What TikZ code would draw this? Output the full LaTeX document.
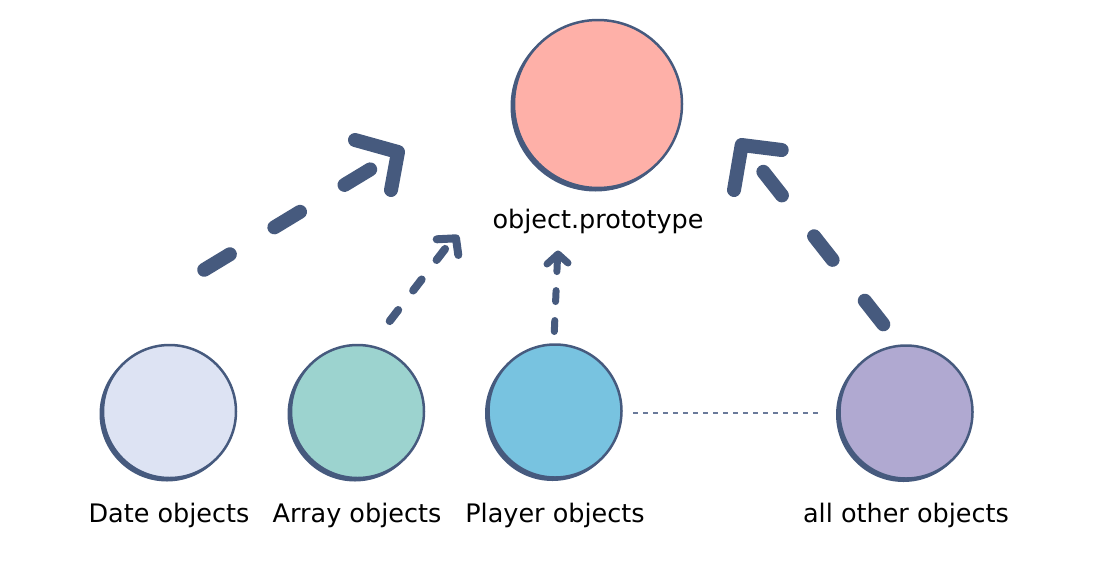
\documentclass[tikz,border=0pt]{standalone}
\usepackage{fontspec}
\setmainfont{DejaVu Sans}
\usetikzlibrary{calc}
\definecolor{bordercol}{HTML}{465A7E}
\definecolor{protocol}{HTML}{FEB0A8}
\definecolor{datecol}{HTML}{DDE3F3}
\definecolor{arraycol}{HTML}{9CD3CF}
\definecolor{playercol}{HTML}{78C3E0}
\definecolor{othercol}{HTML}{B0A9D1}
\definecolor{dotcol}{HTML}{6A7A9A}
\tikzset{
  objcircle/.style={circle, draw=bordercol, line width=2.5pt, inner sep=0pt, minimum size=#1},
  shadowcircle/.style={circle, fill=bordercol, inner sep=0pt, minimum size=#1},
  lbl/.style={anchor=base, font=\fontsize{25.5}{30}\selectfont, text=black, inner sep=0pt},
  bigarrow/.style={draw=bordercol, line width=14pt, line cap=round, line join=round},
  midarrow/.style={draw=bordercol, line width=8pt, line cap=round, line join=round},
  smallarrow/.style={draw=bordercol, line width=7pt, line cap=round, line join=round},
}
\begin{document}
\begin{tikzpicture}[x=1pt,y=-1pt]
\useasboundingbox (0,0) rectangle (1108,568);
% shadows
\node[shadowcircle=170pt] at (595.5,106.5) {};
\node[shadowcircle=135pt] at (167,414) {};
\node[shadowcircle=135pt] at (355,414) {};
\node[shadowcircle=135pt] at (552.5,413.5) {};
\node[shadowcircle=135pt] at (903.5,414.5) {};
% circles
\node[objcircle=168pt, fill=protocol] (proto) at (598,104) {};
\node[objcircle=133pt, fill=datecol] (date) at (169.5,411.5) {};
\node[objcircle=133pt, fill=arraycol] (array) at (357.5,411.5) {};
\node[objcircle=133pt, fill=playercol] (player) at (555,411) {};
\node[objcircle=133pt, fill=othercol] (other) at (906,412) {};
% labels
\node[lbl] (protolbl) at (598,228) {object.prototype};
\node[lbl] (datelbl) at (169,522) {Date objects};
\node[lbl] (arraylbl) at (357,522) {Array objects};
\node[lbl] (playerlbl) at (555,522) {Player objects};
\node[lbl] (otherlbl) at (906,522) {all other objects};
% arrow coordinates
\coordinate (a1s) at (204.2,269.8);
\coordinate (a1e) at (371.3,168.7);
\coordinate (a1t) at (398,152);
\coordinate (a2s) at (389.7,321.1);
\coordinate (a2e) at (445.8,248);
\coordinate (a2t) at (456,238.3);
\coordinate (a3s) at (554.3,331.5);
\coordinate (a3e) at (557.5,258);
\coordinate (a3t) at (558,254);
\coordinate (a4s) at (883.3,324.3);
\coordinate (a4e) at (761.7,169.7);
\coordinate (a4t) at (741.7,145);
% big left arrow
\draw[bigarrow, dash pattern=on 30pt off 52pt] (a1s) -- (a1e);
\draw[bigarrow] ($(a1t)+(-43,-12)$) -- (a1t) -- ($(a1t)+(-7,38)$);
% array arrow
\draw[midarrow, dash pattern=on 14pt off 24.5pt] (a2s) -- (a2e);
\draw[midarrow] ($(a2t)+(-19.3,1)$) -- (a2t) -- ($(a2t)+(2.3,16.7)$);
% player arrow
\draw[smallarrow, dash pattern=on 11pt off 19pt] (a3s) -- (a3e);
\draw[smallarrow] ($(a3t)+(-11,10)$) -- (a3t) -- ($(a3t)+(10,9)$);
% right big arrow
\draw[bigarrow, dash pattern=on 30pt off 52pt] (a4s) -- (a4e);
\draw[bigarrow] ($(a4t)+(40,5)$) -- (a4t) -- ($(a4t)+(-7.7,45)$);
% dotted connector
\coordinate (dl) at (633,412.5);
\coordinate (dr) at (820,412.5);
\draw[dotcol, line width=2pt, dash pattern=on 5pt off 5pt] (dl) -- (dr);
\end{tikzpicture}
\end{document}
